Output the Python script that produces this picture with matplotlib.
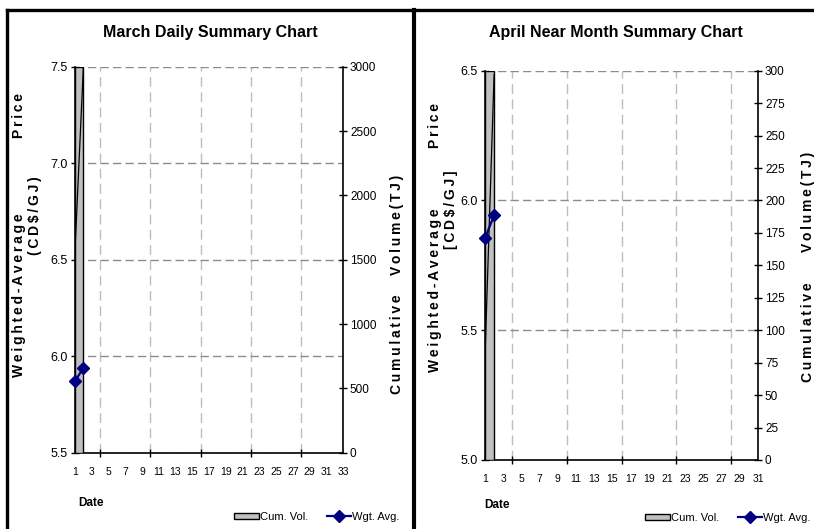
import matplotlib
matplotlib.use("Agg")
import matplotlib.pyplot as plt
from matplotlib.lines import Line2D
from matplotlib.patches import Patch
from matplotlib.ticker import FormatStrFormatter, FixedLocator

# ---------------- data ----------------
mar_title = "March Daily Summary Chart"
apr_title = "April Near Month Summary Chart"

mar_days = [1, 2]
mar_price = [5.87, 5.94]
mar_cumvol_bar = [3000]          # bar between day 1 and day 2 (clipped at top)
mar_cumvol_line = [1575, 3000]

apr_days = [1, 2]
apr_price = [5.855, 5.943]
apr_cumvol_bar = [300]
apr_cumvol_line = [80, 297]

mar_price_ticks = [5.5, 6.0, 6.5, 7.0, 7.5]
mar_vol_ticks = [0, 500, 1000, 1500, 2000, 2500, 3000]
apr_price_ticks = [5.0, 5.5, 6.0, 6.5]
apr_vol_ticks = [0, 25, 50, 75, 100, 125, 150, 175, 200, 225, 250, 275, 300]

NARROW = ['Liberation Sans Narrow', 'Liberation Sans', 'DejaVu Sans']
WIDE = ['Liberation Sans', 'DejaVu Sans']

W, H = 814, 529
fig = plt.figure(figsize=(W / 100, H / 100), dpi=100)


def fx(px):
    return px / W


def fy(py):
    return 1 - py / H


def spaced(s):
    return "\u2009".join(list(s))


def vtext(x, y, s, size=10):
    fig.text(fx(x), fy(y), spaced(s), rotation=90, ha='center', va='center',
             fontfamily=WIDE, fontweight='bold', fontsize=size)


def make_panel(rect, days, price, vbar, vline, pticks, vticks, xmax, title, tx,
               labs, date_xy, leg_xy):
    ax = fig.add_axes(rect)
    ax2 = ax.twinx()
    ax3 = ax.twinx()
    ax.set_zorder(1)
    ax2.set_zorder(2)
    ax3.set_zorder(3)
    for a in (ax2, ax3):
        a.patch.set_visible(False)

    ax.set_xlim(1, xmax)
    ax.set_ylim(pticks[0], pticks[-1])
    ax2.set_ylim(vticks[0], vticks[-1])
    ax3.set_ylim(pticks[0], pticks[-1])
    ax3.axis('off')

    # bars and cumulative line
    ax2.bar(days[:1], vbar, width=1, align='edge', color='#c0c0c0',
            edgecolor='black', linewidth=1.0, zorder=2)
    ax2.plot(days, vline, color='black', linewidth=0.9, zorder=3)
    # price
    ax3.plot(days, price, color='#000080', linewidth=1.6, marker='D',
             markersize=6, zorder=4, clip_on=False)

    # x ticks
    ax.xaxis.set_major_locator(FixedLocator(list(range(1, xmax + 1, 2))))
    ax.xaxis.set_minor_locator(FixedLocator(list(range(4, xmax, 3))))
    ax.tick_params(axis='x', which='major', length=0, pad=10)
    ax.tick_params(axis='x', which='minor', length=6, direction='inout',
                   width=1.0, color='black')
    for lbl in ax.get_xticklabels():
        lbl.set_fontfamily(NARROW)
        lbl.set_fontsize(7.5)
    ax.grid(True, axis='x', which='minor', color='#bdbdbd',
            linestyle=(0, (7, 4)), linewidth=1.0)

    # y ticks price
    ax.set_yticks(pticks)
    ax.yaxis.set_major_formatter(FormatStrFormatter('%.1f'))
    ax.tick_params(axis='y', length=6, direction='inout', width=1.0, pad=2)
    for lbl in ax.get_yticklabels():
        lbl.set_fontfamily(NARROW)
        lbl.set_fontsize(9)
    ax.grid(True, axis='y', which='major', color='#8c8c8c',
            linestyle=(0, (6, 3)), linewidth=1.0)

    # y ticks volume
    ax2.set_yticks(vticks)
    ax2.tick_params(axis='y', length=6, direction='inout', width=1.0, pad=2)
    for lbl in ax2.get_yticklabels():
        lbl.set_fontfamily(NARROW)
        lbl.set_fontsize(8.5)

    for a in (ax, ax2):
        a.spines['top'].set_visible(False)
        for s in ('left', 'right', 'bottom'):
            a.spines[s].set_linewidth(1.2)
    ax.spines['right'].set_visible(False)
    ax2.spines['left'].set_visible(False)
    ax2.spines['bottom'].set_visible(False)

    # title
    fig.text(fx(tx), fy(33), title, ha='center', va='center',
             fontfamily=NARROW, fontweight='bold', fontsize=11.5)

    # axis labels
    for (x, y, s) in labs:
        vtext(x, y, s)
    fig.text(fx(date_xy[0]), fy(date_xy[1]), "Date",
             ha='left', va='center', fontfamily=WIDE, fontweight='bold',
             fontsize=8.5)

    handles = [Patch(facecolor='#c0c0c0', edgecolor='black', linewidth=1.0),
               Line2D([], [], color='#000080', linewidth=1.6, marker='D',
                      markersize=6)]
    fig.legend(handles, ["Cum. Vol.", "Wgt. Avg."], loc='center',
               bbox_to_anchor=(fx(leg_xy[0]), fy(leg_xy[1])), ncol=2,
               frameon=False, handlelength=2.2, handleheight=0.5,
               handletextpad=0.1, columnspacing=1.7,
               prop={'family': NARROW, 'size': 8})
    return ax


# left panel
make_panel([fx(75), fy(452.7), fx(343) - fx(75), fy(66.7) - fy(452.7)],
           mar_days, mar_price, mar_cumvol_bar, mar_cumvol_line,
           mar_price_ticks, mar_vol_ticks, 33, mar_title, 210,
           [(19, 295, "Weighted-Average"), (19, 115, "Price"),
            (35, 216, "(CD$/GJ)"),
            (397, 344, "Cumulative"), (397, 225, "Volume(TJ)")],
           (78, 503), (317, 517))

# right panel
make_panel([fx(485), fy(460), fx(758) - fx(485), fy(70.7) - fy(460)],
           apr_days, apr_price, apr_cumvol_bar, apr_cumvol_line,
           apr_price_ticks, apr_vol_ticks, 31, apr_title, 616,
           [(435, 290, "Weighted-Average"), (435, 125, "Price"),
            (451, 210, "[CD$/GJ]"),
            (808, 332, "Cumulative"), (808, 202, "Volume(TJ)")],
           (484, 505), (728, 518))

# panel borders
lw = 2.4
fig.add_artist(Line2D([fx(7), 1.0], [fy(9.5), fy(9.5)], color='black', linewidth=lw))
fig.add_artist(Line2D([fx(7), fx(7)], [fy(9.5), 0], color='black', linewidth=lw))
fig.add_artist(Line2D([fx(414), fx(414)], [fy(9.5), 0], color='black', linewidth=lw + 0.6))

fig.savefig("out.png", dpi=100)
